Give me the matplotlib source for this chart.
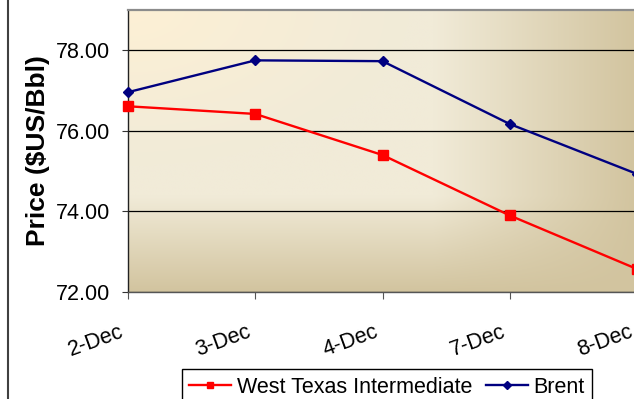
import numpy as np
import matplotlib
matplotlib.use("Agg")
import matplotlib.pyplot as plt
import matplotlib.transforms as mtransforms
from matplotlib.lines import Line2D
from matplotlib.colors import to_rgb

# ---- data ----
dates = ["2-Dec", "3-Dec", "4-Dec", "7-Dec", "8-Dec"]
wti = [76.61, 76.42, 75.40, 73.90, 72.57]
brent = [76.96, 77.75, 77.73, 76.17, 74.93]
yticks = [72.0, 74.0, 76.0, 78.0]
ylabel = "Price ($US/Bbl)"
series_names = ["West Texas Intermediate", "Brent"]

plt.rcParams['font.family'] = ['Liberation Sans', 'DejaVu Sans']

W, H = 634, 399
fig = plt.figure(figsize=(W / 100, H / 100), dpi=100)
fig.patch.set_facecolor('white')

# plot area (extends slightly past right edge, as in the cropped reference)
L, R, B, T = 128, 637, 292, 10
ax = fig.add_axes([L / W, (H - B) / H, (R - L) / W, (B - T) / H])

# gradient background
nx, ny = 300, 200
u = np.linspace(0, 1, nx)[None, :]
v = np.linspace(0, 1, ny)[:, None]
tl = np.array(to_rgb('#FDF0D5'))
mid = np.array(to_rgb('#F1EBD8'))
dark = np.array(to_rgb('#D2C49F'))
d = np.clip(np.sqrt(u ** 2 + v ** 2) / 0.55, 0, 1)[..., None]
light = tl * (1 - d) + mid * d
fu = np.clip((u - 0.60) / 0.40, 0, 1)
fv = np.clip((v - 0.66) / 0.34, 0, 1)
f = (1 - (1 - fu) * (1 - fv))[..., None]
img = light * (1 - f) + dark * f
ax.imshow(img, extent=[0, 1, 0, 1], transform=ax.transAxes, aspect='auto',
          zorder=0, interpolation='bilinear', origin='upper')

x = np.arange(len(dates))
ax.plot(x, wti, color='#FF0000', lw=1.7, marker='s', markersize=6.5,
        label=series_names[0], zorder=3, clip_on=False)
ax.plot(x, brent, color='#000080', lw=1.7, marker='D', markersize=5,
        label=series_names[1], zorder=3, clip_on=False)

ax.set_xlim(0, len(dates) - 1)
ax.set_ylim(72, 79)
ax.set_yticks(yticks)
ax.set_yticklabels([f"{t:.2f}" for t in yticks])
ax.set_xticks(x)
ax.set_xticklabels(dates)

ax.yaxis.grid(True, color='black', lw=0.9, zorder=1)
ax.set_axisbelow(True)

ax.tick_params(axis='y', direction='out', length=4.5, width=0.8, color='#333333',
               labelsize=15.5, pad=8.5)
ax.tick_params(axis='x', direction='out', length=5, width=0.8, color='#555555',
               labelsize=15.5, pad=23)
shift = mtransforms.ScaledTranslation(-5 / 100, 0, fig.dpi_scale_trans)
for lab in ax.get_xticklabels():
    lab.set_rotation(20)
    lab.set_ha('right')
    lab.set_va('center')
    lab.set_rotation_mode('anchor')
    lab.set_transform(lab.get_transform() + shift)

ax.spines['right'].set_visible(False)
ax.spines['top'].set_color('#8C8C8C')
ax.spines['top'].set_linewidth(1.6)
ax.spines['left'].set_color('#222222')
ax.spines['left'].set_linewidth(1.0)
ax.spines['bottom'].set_color('#555555')
ax.spines['bottom'].set_linewidth(1.0)

ax.set_ylabel(ylabel, fontsize=19, fontweight='bold')
ax.yaxis.label.set_va('center')
ax.yaxis.set_label_coords((38 - L) / (R - L), 0.5)

leg = fig.legend(loc='upper center', bbox_to_anchor=(387 / W, (H - 369) / H),
                 ncol=2, fontsize=15.5, frameon=True, fancybox=False,
                 edgecolor='black', framealpha=1, borderaxespad=0,
                 handlelength=1.95, handletextpad=0.28, columnspacing=0.6,
                 borderpad=0.35, markerscale=0.75)
leg.get_frame().set_linewidth(1.0)

# outer chart border (left side visible)
fig.add_artist(Line2D([7.5 / W, 7.5 / W], [0, 1], transform=fig.transFigure,
                      color='#404040', lw=1.5))

fig.savefig('out.png', dpi=100)
